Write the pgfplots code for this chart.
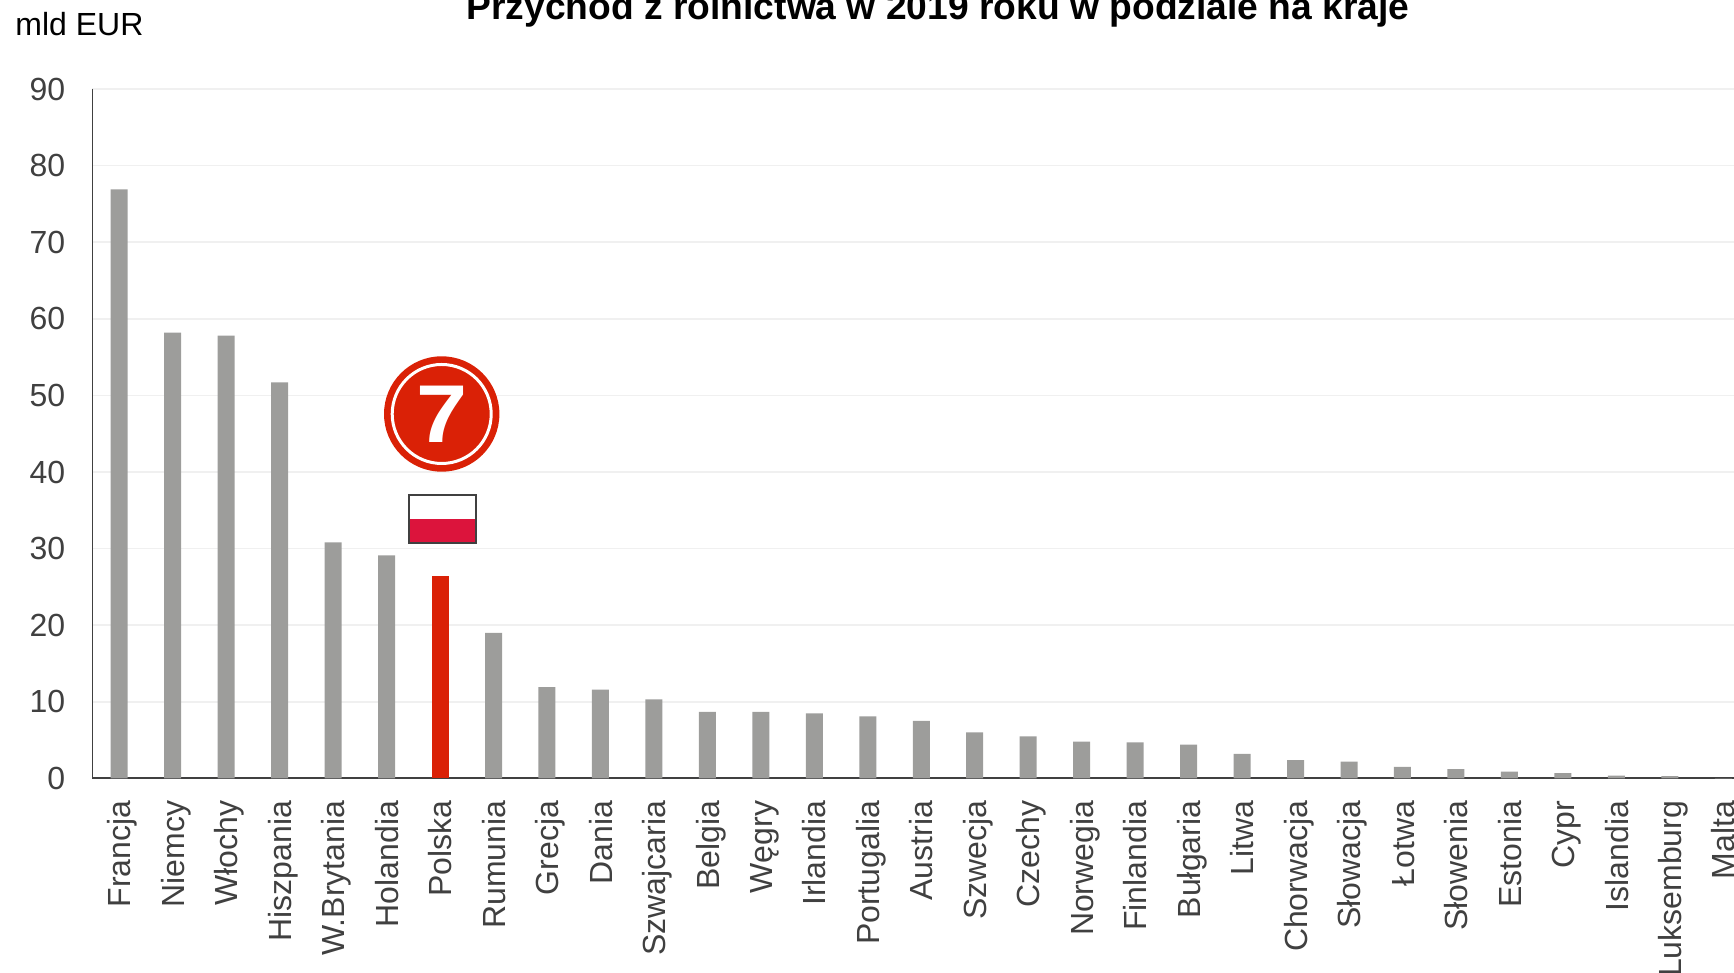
\documentclass[border=0pt]{standalone}
\usepackage{fontspec}
\setmainfont{Liberation Sans}
\usepackage{pgfplots}
\usepackage{pgfplotstable}
\pgfplotsset{compat=1.18}
\definecolor{bargray}{HTML}{9D9D9B}
\definecolor{barred}{HTML}{DA2106}
\definecolor{txt}{HTML}{404040}
\definecolor{gridc}{HTML}{F0F0F0}
\definecolor{flagred}{HTML}{DC143C}
\pgfplotstableread{
x v
0 76.9
1 58.2
2 57.8
3 51.7
4 30.8
5 29.1
7 19.0
8 11.9
9 11.6
10 10.3
11 8.7
12 8.7
13 8.5
14 8.1
15 7.5
16 6.0
17 5.5
18 4.8
19 4.7
20 4.4
21 3.2
22 2.4
23 2.2
24 1.5
25 1.2
26 0.9
27 0.7
28 0.35
29 0.3
30 0.05
}\others
\pgfplotstableread{
x v
6 26.4
}\polska
\begin{document}
\begin{tikzpicture}[x=0.5pt,y=0.5pt]
\path[use as bounding box,clip] (0,0) rectangle (1734,973);
\begin{axis}[
  at={(46.25pt,97.3pt)},anchor=south west,
  scale only axis,
  width=828.75pt,height=344.7pt,
  xmin=-0.5,xmax=30.5,ymin=0,ymax=90,
  axis x line*=bottom,axis y line*=left,
  axis line style={txt,line width=0.9pt},
  separate axis lines,
  x axis line style={-},y axis line style={-},
  ymajorgrids,grid style={gridc,line width=0.8pt},
  major tick length=0pt,
  ytick={0,10,...,90},
  xtick={0,...,30},
  xticklabels={Francja,Niemcy,Włochy,Hiszpania,W.Brytania,Holandia,Polska,Rumunia,Grecja,Dania,Szwajcaria,Belgia,Węgry,Irlandia,Portugalia,Austria,Szwecja,Czechy,Norwegia,Finlandia,Bułgaria,Litwa,Chorwacja,Słowacja,Łotwa,Słowenia,Estonia,Cypr,Islandia,Luksemburg,Malta},
  xticklabel style={rotate=90,anchor=east,font=\fontsize{16}{16}\selectfont,text=txt,inner sep=0pt,xshift=-11pt,text height=11.66pt,text depth=0pt},
  yticklabel style={font=\fontsize{16}{16}\selectfont,text=txt,inner sep=0pt,xshift=-13.5pt},
  /pgf/number format/assume math mode=true,
  ybar,bar shift=0pt,bar width=8.5pt,
  clip=false,
]
\addplot[fill=bargray,draw=none] table[x=x,y=v]{\others};
\addplot[fill=barred,draw=none] table[x=x,y=v]{\polska};
\end{axis}
% badge and flag
\fill[barred] (441.7,559) circle (57.7);
\draw[white,line width=1.5pt] (441.7,559) circle (49.5);
\node[text=white,font=\fontsize{41}{41}\selectfont\bfseries,inner sep=0pt,xscale=1.12] at (441.7,559) {7};
\fill[white] (409,454) rectangle (475.7,478);
\fill[flagred] (409,430.3) rectangle (475.7,454);
\draw[txt,line width=0.9pt] (409,430.3) rectangle (475.7,478);
% texts
\node[anchor=base west,inner sep=0pt,font=\fontsize{16}{16}\selectfont] at (15,937) {mld EUR};
\node[anchor=base,inner sep=0pt,font=\fontsize{18.6}{18.6}\selectfont\bfseries] at (938,953) {Przychód z rolnictwa w 2019 roku w podziale na kraje};
\end{tikzpicture}
\end{document}
